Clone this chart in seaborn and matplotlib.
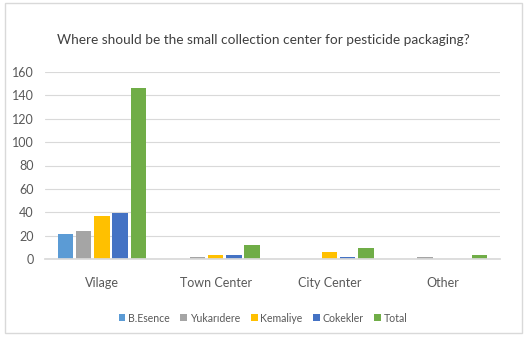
import matplotlib
matplotlib.use("Agg")
import matplotlib.pyplot as plt
import seaborn as sns
import pandas as pd
from matplotlib.patches import Rectangle

categories = ["Vilage", "Town Center", "City Center", "Other"]
series = ["B.Esence", "Yukarıdere", "Kemaliye", "Cokekler", "Total"]
b_esence = [21, 0, 0, 0]
yukaridere = [24, 2, 0, 2]
kemaliye = [37, 3, 6, 0]
cokekler = [39, 3, 2, 0]
total = [146, 12, 9, 3]
colors = ["#5B9BD5", "#A5A5A5", "#FFC000", "#4472C4", "#70AD47"]
yticks = [0, 20, 40, 60, 80, 100, 120, 140, 160]

rows = []
for name, vals in zip(series, [b_esence, yukaridere, kemaliye, cokekler, total]):
    for c, v in zip(categories, vals):
        rows.append({"cat": c, "series": name, "value": v})
df = pd.DataFrame(rows)

sns.set_theme(style="white")
plt.rcParams["font.family"] = ["Lato", "DejaVu Sans"]

fig = plt.figure(figsize=(5.26, 3.39), dpi=100)
ax = fig.add_axes([45/526, 1-259/339, 455/526, 187/339])
sns.barplot(data=df, x="cat", y="value", hue="series", order=categories,
            hue_order=series, palette=colors, width=0.8, gap=0.15,
            ax=ax, saturation=1, legend=True, linewidth=0)
ax.set_ylim(0, 160)
ax.set_yticks(yticks)
ax.set_xlim(-0.5, 3.5)
ax.yaxis.grid(True, color="#D9D9D9", linewidth=0.8)
ax.set_axisbelow(True)
for s in ["top", "right", "left"]:
    ax.spines[s].set_visible(False)
ax.spines["bottom"].set_color("#D9D9D9")
ax.tick_params(axis="both", length=0, labelsize=9, colors="#595959")
ax.tick_params(axis="x", pad=13)
ax.tick_params(axis="y", pad=8)
ax.set_xlabel("")
ax.set_ylabel("")

handles, labels = ax.get_legend_handles_labels()
ax.legend_.remove()
fig.legend(handles, labels, loc="center", bbox_to_anchor=(0.5, 1-318/339),
           ncol=5, frameon=False, fontsize=7.6, handlelength=0.65,
           handleheight=0.65, handletextpad=0.25, columnspacing=1.0,
           labelcolor="#595959")

fig.text(0.5, 1-40/339, "Where should be the small collection center for pesticide packaging?",
         ha="center", va="center", fontsize=9.8, color="#404040")

fig.patches.append(Rectangle((5/526, 1-333/339), 517/526, 330/339,
                             transform=fig.transFigure, fill=False,
                             edgecolor="#D9D9D9", linewidth=1))

fig.savefig("out.png", dpi=100)
